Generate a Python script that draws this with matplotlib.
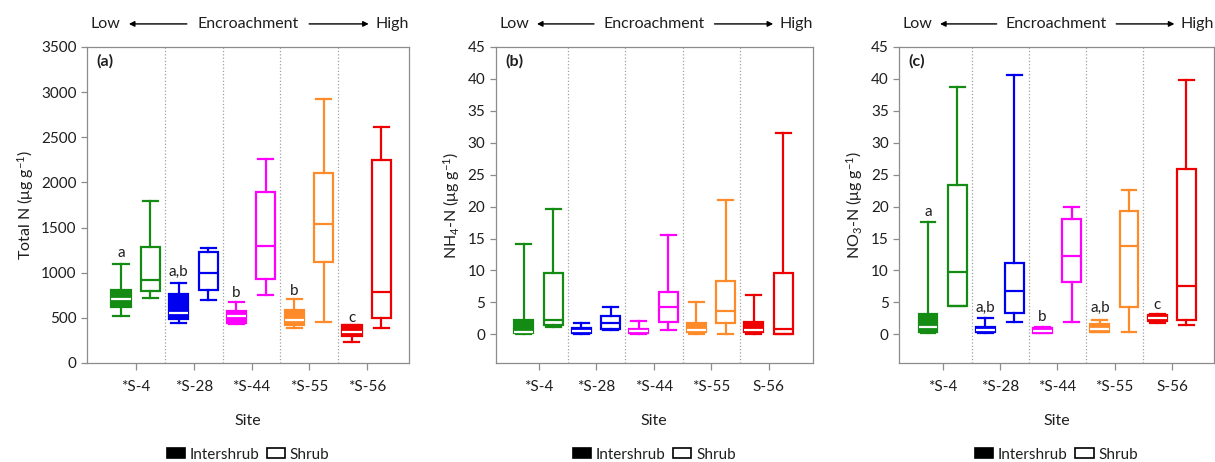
import matplotlib
matplotlib.use("Agg")
import matplotlib.pyplot as plt
from matplotlib.patches import Patch
import numpy as np

plt.rcParams['font.family'] = ['Lato', 'DejaVu Sans']
plt.rcParams['mathtext.fontset'] = 'custom'
plt.rcParams['mathtext.rm'] = 'Lato'
plt.rcParams['mathtext.default'] = 'regular'

sites_a = ['*S-4', '*S-28', '*S-44', '*S-55', '*S-56']
sites_bc = ['*S-4', '*S-28', '*S-44', '*S-55', 'S-56']
site_colors = ['#148c14', '#0000f0', '#ff00ff', '#ff8a2a', '#ee0000']

# five-number summaries per site: whisker low, Q1, median, Q3, whisker high
tn_inter = [[520, 620, 705, 805, 1095],
            [440, 484, 557, 764, 885],
            [435, 440, 520, 580, 675],
            [385, 425, 476, 587, 705],
            [236, 303, 347, 420, 420]]
tn_shrub = [[716, 797, 919, 1284, 1790],
            [701, 812, 996, 1229, 1277],
            [753, 930, 1299, 1895, 2260],
            [450, 1122, 1535, 2101, 2920],
            [387, 498, 790, 2249, 2614]]

nh4_inter = [[0.0, 0.15, 0.4, 2.3, 14.2],
             [0.0, 0.15, 0.45, 1.0, 1.7],
             [0.0, 0.2, 0.5, 0.9, 2.1],
             [0.0, 0.3, 0.6, 1.8, 5.1],
             [0.0, 0.35, 0.7, 1.9, 6.2]]
nh4_shrub = [[1.2, 1.45, 2.3, 9.6, 19.6],
             [0.7, 0.75, 1.7, 2.8, 4.2],
             [0.6, 1.9, 4.2, 6.6, 15.5],
             [0.0, 1.7, 3.7, 8.4, 21.1],
             [0.0, 0.1, 0.75, 9.6, 31.6]]

no3_inter = [[0.15, 0.3, 1.2, 3.2, 17.6],
             [0.25, 0.3, 0.6, 1.1, 2.6],
             [0.15, 0.2, 0.55, 1.0, 1.1],
             [0.3, 0.35, 0.9, 1.6, 2.3],
             [1.8, 2.0, 2.5, 3.0, 3.1]]
no3_shrub = [[4.4, 4.4, 9.7, 23.4, 38.8],
             [1.9, 3.3, 6.7, 11.1, 40.6],
             [1.9, 8.2, 12.2, 18.1, 19.9],
             [0.4, 4.2, 13.9, 19.3, 22.6],
             [1.5, 2.3, 7.5, 25.9, 39.9]]

tn_letters = ['a', 'a,b', 'b', 'b', 'c']
tn_letter_y = [1220, 1010, 775, 800, 500]
no3_letters = ['a', 'a,b', 'b', 'a,b', 'c']
no3_letter_y = [19.2, 4.1, 2.7, 4.1, 4.6]

TXT = '#1e1e1e'
GRID = '#8c8c8c'


def to_stats(rows):
    return [dict(whislo=r[0], q1=r[1], med=r[2], q3=r[3], whishi=r[4]) for r in rows]


def draw_group(ax, rows, pos, filled):
    art = ax.bxp(to_stats(rows), positions=pos, widths=0.33, capwidths=0.26,
                 patch_artist=True, showfliers=False,
                 boxprops=dict(lw=1.6), whiskerprops=dict(lw=1.6),
                 capprops=dict(lw=1.6), medianprops=dict(lw=1.6))
    for i, c in enumerate(site_colors):
        box = art['boxes'][i]
        box.set_edgecolor(c)
        box.set_facecolor(c if filled else 'white')
        art['medians'][i].set_color('white' if filled else c)
        for k in (2 * i, 2 * i + 1):
            art['whiskers'][k].set_color(c)
            art['caps'][k].set_color(c)


def encroach(ax):
    y = 1.073
    kw = dict(transform=ax.transAxes, va='center', fontsize=11.5, color=TXT)
    ax.text(0.012, y, 'Low', ha='left', **kw)
    ax.text(0.5, y, 'Encroachment', ha='center', **kw)
    ax.text(1.0, y, 'High', ha='right', **kw)
    arr = dict(arrowstyle='-|>', color='black', lw=1.0, mutation_scale=8,
               shrinkA=0, shrinkB=0)
    ax.annotate('', xy=(0.13, y), xytext=(0.31, y), xycoords='axes fraction',
                arrowprops=arr)
    ax.annotate('', xy=(0.875, y), xytext=(0.69, y), xycoords='axes fraction',
                arrowprops=arr)


def panel(ax, inter, shrub, sites, ylab, tag, ylim, yticks, xlim):
    pos = np.arange(1, len(sites) + 1)
    for x in pos[:-1] + 0.5:
        ax.axvline(x, color='#a0a0a0', ls=':', lw=0.9, zorder=0)
    draw_group(ax, inter, pos - 0.26, True)
    draw_group(ax, shrub, pos + 0.25, False)
    ax.set_xlim(*xlim)
    ax.set_ylim(*ylim)
    ax.set_yticks(yticks)
    ax.set_xticks(pos)
    ax.set_xticklabels(sites)
    ax.set_xlabel('Site', fontsize=11.5, color=TXT, labelpad=15)
    ax.set_ylabel(ylab, fontsize=11.5, color=TXT)
    for s in ax.spines.values():
        s.set_color(GRID)
        s.set_linewidth(0.9)
    ax.tick_params(axis='both', colors=GRID, labelcolor=TXT, labelsize=11,
                   length=4, width=0.9)
    ax.tick_params(axis='x', length=5, pad=7)
    ax.text(0.03, 0.955, tag, transform=ax.transAxes, fontsize=11.5,
            fontweight='bold', color=TXT, va='center', ha='left')
    encroach(ax)
    handles = [Patch(facecolor='black', edgecolor='black', lw=1.2),
               Patch(facecolor='white', edgecolor='black', lw=1.2)]
    ax.legend(handles, ['Intershrub', 'Shrub'], loc='center',
              bbox_to_anchor=(0.5, -0.29), ncol=2, frameon=False,
              fontsize=11, handlelength=1.2, handleheight=0.6,
              handletextpad=0.3, columnspacing=0.5, labelcolor=TXT)


fig = plt.figure(figsize=(12.15, 4.62), dpi=100)
ax_a = fig.add_axes([0.0716, 0.2143, 0.265, 0.684])
ax_b = fig.add_axes([0.408, 0.2143, 0.261, 0.684])
ax_c = fig.add_axes([0.740, 0.2143, 0.259, 0.684])

panel(ax_a, tn_inter, tn_shrub, sites_a, 'Total N (μg g$^{-1}$)', '(a)',
      (0, 3500), np.arange(0, 3501, 500), (0.151, 5.727))
panel(ax_b, nh4_inter, nh4_shrub, sites_bc, 'NH$_4$-N (μg g$^{-1}$)', '(b)',
      (-4.5, 45), np.arange(0, 46, 5), (0.252, 5.765))
panel(ax_c, no3_inter, no3_shrub, sites_bc, 'NO$_3$-N (μg g$^{-1}$)', '(c)',
      (-4.5, 45), np.arange(0, 46, 5), (0.235, 5.73))

for i in range(5):
    ax_a.text(i + 1 - 0.26, tn_letter_y[i], tn_letters[i], ha='center',
              va='center', fontsize=11, color=TXT)
    ax_c.text(i + 1 - 0.26, no3_letter_y[i], no3_letters[i], ha='center',
              va='center', fontsize=11, color=TXT)

fig.savefig('out.png', dpi=100)
